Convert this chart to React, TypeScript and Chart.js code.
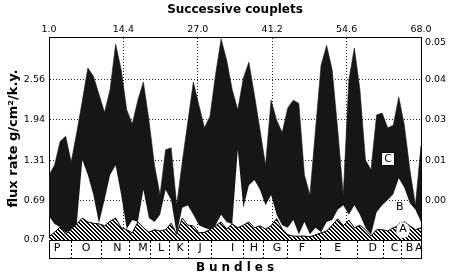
import React, { useEffect, useRef } from 'react';
import { Chart, registerables } from 'chart.js';

Chart.register(...registerables);

// ---- data ----
const couplets = [
  1, 2, 3, 4, 5, 6, 7, 8, 9, 10, 11, 12, 13, 14, 15, 16, 17, 18, 19, 20,
  21, 22, 23, 24, 25, 26, 27, 28, 29, 30, 31, 32, 33, 34, 35, 36, 37, 38, 39, 40,
  41, 42, 43, 44, 45, 46, 47, 48, 49, 50, 51, 52, 53, 54, 55, 56, 57, 58, 59, 60,
  61, 62, 63, 64, 65, 66, 67, 68,
];

// top of component C (black band) = total flux
const topC = [
  1.08, 1.23, 1.6, 1.68, 1.28, 1.74, 2.23, 2.74, 2.61, 2.33,
  2.05, 2.4, 3.11, 2.71, 2.09, 1.87, 2.24, 2.52, 1.93, 1.23,
  0.77, 1.47, 1.5, 0.61, 1.28, 1.9, 2.52, 2.16, 1.81, 1.99,
  2.64, 3.19, 2.86, 2.4, 2.09, 2.58, 2.83, 2.32, 1.78, 1.23,
  2.24, 1.93, 1.74, 2.12, 2.24, 2.19, 1.08, 0.77, 1.78, 2.78,
  3.09, 2.71, 1.78, 0.77, 2.55, 3.05, 2.4, 1.31, 1.16, 2.01,
  2.04, 1.81, 1.85, 2.29, 1.85, 1.16, 0.61, 1.54,
];

// top of component B (white band)
const topB = [
  0.44, 0.32, 0.27, 0.18, 0.24, 0.32, 1.31, 1.08, 0.77, 0.33,
  0.69, 1.08, 1.23, 0.77, 0.24, 0.38, 0.35, 0.85, 0.41, 0.35,
  0.46, 0.85, 0.69, 0.16, 0.57, 0.61, 0.46, 0.3, 0.26, 0.23,
  0.3, 0.46, 0.35, 0.32, 1.47, 0.57, 0.92, 1.0, 0.85, 0.61,
  0.77, 0.46, 0.3, 0.26, 0.38, 0.16, 0.35, 0.16, 0.26, 0.19,
  0.35, 0.38, 0.54, 0.61, 0.46, 0.61, 0.46, 0.26, 0.15, 0.5,
  0.61, 0.69, 0.78, 1.03, 0.88, 0.64, 0.54, 0.35,
];

// top of component A (hatched band)
const topA = [
  0.12, 0.19, 0.27, 0.16, 0.24, 0.32, 0.41, 0.35, 0.33, 0.32,
  0.29, 0.36, 0.41, 0.26, 0.23, 0.18, 0.35, 0.26, 0.19, 0.23,
  0.21, 0.23, 0.33, 0.16, 0.41, 0.3, 0.29, 0.18, 0.19, 0.23,
  0.29, 0.35, 0.24, 0.32, 0.26, 0.3, 0.35, 0.26, 0.29, 0.24,
  0.29, 0.4, 0.24, 0.15, 0.13, 0.13, 0.13, 0.12, 0.15, 0.18,
  0.21, 0.3, 0.4, 0.29, 0.38, 0.26, 0.3, 0.23, 0.13, 0.23,
  0.23, 0.21, 0.26, 0.29, 0.35, 0.29, 0.23, 0.26,
];

const topTickValues = [1, 14.4, 27.8, 41.2, 54.6, 68];
const topTickLabels = ['1.0', '14.4', '27.0', '41.2', '54.6', '68.0'];
const leftTickValues = [0.07, 0.69, 1.31, 1.94, 2.56];
const leftTickLabels = ['0.07', '0.69', '1.31', '1.94', '2.56'];
const rightTickValues = [0.69, 1.31, 1.94, 2.56, 3.14];
const rightTickLabels = ['0.00', '0.01', '0.03', '0.04', '0.05'];

const bundleBounds = [1, 5.05, 10.42, 15.55, 19.35, 22.79, 26.11, 30.21, 36.07, 39.69, 43.92, 49.96, 56.6, 61.3, 64.44, 68];
const bundleNames = ['P', 'O', 'N', 'M', 'L', 'K', 'J', 'I', 'H', 'G', 'F', 'E', 'D', 'C', 'B', 'A'];
const bundleLabelAt = [2.44, 7.66, 13.32, 17.93, 21.17, 24.6, 28.2, 34.09, 37.92, 42.07, 46.57, 52.98, 59.3, 63.23, 65.95, 67.6];

const seriesTagText = ['C', 'B', 'A'];
const seriesTagX = [62.06, 64.17, 64.76];
const seriesTagY = [1.33, 0.59, 0.24];

const Y_MIN = 0.07;
const Y_MAX = 3.22;
const FONT = "'DejaVu Sans', sans-serif";

const stripValues = [...bundleBounds, ...bundleLabelAt];
const stripLabels = [...bundleBounds.map(() => ''), ...bundleNames];
const nBounds = bundleBounds.length;

const tagPlugin = {
  id: 'seriesTags',
  afterDatasetsDraw(chart: any) {
    const { ctx, chartArea } = chart;
    const xs = chart.scales.x;
    const ys = chart.scales.y;
    ctx.save();
    ctx.beginPath();
    ctx.rect(chartArea.left, chartArea.top, chartArea.right - chartArea.left, chartArea.bottom - chartArea.top);
    ctx.clip();
    ctx.font = `11px ${FONT}`;
    ctx.textAlign = 'center';
    ctx.textBaseline = 'middle';
    seriesTagText.forEach((t, i) => {
      const px = xs.getPixelForValue(seriesTagX[i]);
      const py = ys.getPixelForValue(seriesTagY[i]);
      if (t === 'C') {
        ctx.fillStyle = '#fff';
        ctx.fillRect(Math.round(px) - 6.5, Math.round(py) - 6.5, 13, 13);
        ctx.strokeStyle = '#000';
        ctx.lineWidth = 1;
        ctx.strokeRect(Math.round(px) - 6.5, Math.round(py) - 6.5, 13, 13);
      }
      if (t === 'A') {
        ctx.fillStyle = '#fff';
        ctx.beginPath();
        ctx.ellipse(px, py + 1, 7, 8, 0, 0, Math.PI * 2);
        ctx.fill();
        ctx.strokeStyle = '#000';
        ctx.lineWidth = 1;
        ctx.setLineDash([1, 1.5]);
        ctx.beginPath();
        ctx.ellipse(px, py + 1, 7, 8, 0, Math.PI, Math.PI * 2);
        ctx.stroke();
        ctx.setLineDash([]);
      }
      ctx.fillStyle = '#000';
      ctx.fillText(t, px, py + 0.5);
    });
    ctx.restore();
  },
};

const spacedTitlePlugin = {
  id: 'spacedTitle',
  beforeDraw(chart: any) {
    const s: any = chart.scales.xb;
    if (s && !s.__spaced) {
      const orig = s.drawTitle;
      s.drawTitle = function (...args: any[]) {
        const c = this.ctx;
        c.save();
        c.letterSpacing = '4px';
        c.translate(2, 0);
        orig.apply(this, args);
        c.restore();
      };
      s.__spaced = true;
    }
  },
};

function makeHatch(): CanvasPattern | string {
  const pc = document.createElement('canvas');
  pc.width = 4;
  pc.height = 4;
  const g = pc.getContext('2d');
  if (!g) return '#888';
  g.fillStyle = '#fff';
  g.fillRect(0, 0, 4, 4);
  g.fillStyle = '#000';
  for (let k = 0; k < 4; k++) {
    g.fillRect(k, k, 1, 1);
    g.fillRect((k + 1) % 4, k, 1, 1);
  }
  return g.createPattern(pc, 'repeat') || '#888';
}

export default function App() {
  const ref = useRef<HTMLCanvasElement | null>(null);

  useEffect(() => {
    if (!ref.current) return;
    document.body.style.margin = '0';
    document.body.style.overflow = 'hidden';
    const hatch = makeHatch();
    const pts = (arr: number[]) => couplets.map((c, i) => ({ x: c, y: arr[i] }));
    const tickFont = { family: FONT, size: 9.5 };

    const chart = new Chart(ref.current, {
      type: 'line',
      data: {
        datasets: [
          {
            label: 'A',
            data: pts(topA),
            fill: 'start',
            backgroundColor: hatch as any,
            borderColor: '#000',
            borderWidth: 1,
            pointRadius: 0,
            tension: 0,
            xAxisID: 'x',
            yAxisID: 'y',
          },
          {
            label: 'B',
            data: pts(topB),
            fill: false,
            borderColor: 'rgba(0,0,0,0)',
            borderWidth: 1,
            pointRadius: 0,
            tension: 0,
            xAxisID: 'x',
            yAxisID: 'y',
          },
          {
            label: 'C',
            data: pts(topC),
            fill: '-1',
            backgroundColor: '#161616',
            borderColor: '#161616',
            borderWidth: 0.6,
            pointRadius: 0,
            tension: 0,
            xAxisID: 'x',
            yAxisID: 'y',
          },
        ],
      },
      options: {
        animation: false,
        responsive: false,
        layout: { padding: 0 },
        plugins: { legend: { display: false }, tooltip: { enabled: false } },
        scales: {
          x: {
            type: 'linear',
            position: 'top',
            min: 1,
            max: 68,
            afterBuildTicks: (s: any) => {
              s.ticks = topTickValues.map((v) => ({ value: v }));
            },
            afterFit: (s: any) => {
              s.height = 37;
            },
            ticks: {
              callback: (_v: any, i: number) => topTickLabels[i],
              font: tickFont,
              color: '#000',
              padding: 2,
              autoSkip: false,
              maxRotation: 0,
            },
            grid: {
              drawTicks: false,
              lineWidth: 1,
              color: (c: any) => (c.index === 0 || c.index === topTickValues.length - 1 ? 'rgba(0,0,0,0)' : '#222'),
            },
            border: { display: true, color: '#000', width: 1, dash: [1, 2] },
            title: {
              display: true,
              text: 'Successive couplets',
              font: { family: FONT, size: 12, weight: 'bold' },
              color: '#000',
              padding: { top: 3, bottom: 0 },
            },
          },
          xs: {
            type: 'linear',
            position: 'bottom',
            weight: 0,
            min: 1,
            max: 68,
            afterBuildTicks: (s: any) => {
              s.ticks = stripValues.map((v) => ({ value: v }));
            },
            afterFit: (s: any) => {
              s.height = 18;
            },
            ticks: {
              callback: (_v: any, i: number) => stripLabels[i],
              font: { family: FONT, size: 11 },
              color: '#000',
              padding: -16,
              autoSkip: false,
              maxRotation: 0,
              minRotation: 0,
            },
            grid: {
              drawOnChartArea: false,
              drawTicks: true,
              tickLength: 18,
              tickWidth: 1,
              tickColor: (c: any) => (c.index < nBounds ? '#000' : 'rgba(0,0,0,0)'),
              tickBorderDash: (c: any) => (c.index === 0 || c.index === nBounds - 1 ? [] : [2, 2]),
            },
            border: { display: true, color: '#000', width: 1 },
          },
          xb: {
            type: 'linear',
            position: 'bottom',
            weight: 1,
            min: 1,
            max: 68,
            afterFit: (s: any) => {
              s.height = 17;
            },
            ticks: { display: false },
            grid: { display: false, drawTicks: false },
            border: { display: true, color: '#000', width: 1 },
            title: {
              display: true,
              text: 'Bundles',
              font: { family: FONT, size: 12, weight: 'bold' },
              color: '#000',
              padding: { top: 0, bottom: 0 },
            },
          },
          y: {
            type: 'linear',
            position: 'left',
            min: Y_MIN,
            max: Y_MAX,
            afterBuildTicks: (s: any) => {
              s.ticks = leftTickValues.map((v) => ({ value: v }));
            },
            afterFit: (s: any) => {
              s.width = 49;
            },
            ticks: {
              callback: (_v: any, i: number) => leftTickLabels[i],
              font: tickFont,
              color: '#000',
              padding: 4,
              autoSkip: false,
            },
            grid: {
              drawTicks: false,
              lineWidth: 1,
              color: (c: any) => (c.index === 0 ? 'rgba(0,0,0,0)' : '#222'),
            },
            border: { display: true, color: '#000', width: 1, dash: [1, 2] },
            title: {
              display: true,
              text: 'flux rate g/cm²/k.y.',
              font: { family: FONT, size: 13, weight: 'bold' },
              color: '#000',
              padding: { top: 6, bottom: 0 },
            },
          },
          y2: {
            type: 'linear',
            position: 'right',
            min: Y_MIN,
            max: Y_MAX,
            afterBuildTicks: (s: any) => {
              s.ticks = rightTickValues.map((v) => ({ value: v }));
            },
            afterFit: (s: any) => {
              s.width = 29;
            },
            ticks: {
              callback: (_v: any, i: number) => rightTickLabels[i],
              font: tickFont,
              color: '#000',
              padding: 4,
              autoSkip: false,
            },
            grid: { display: false, drawOnChartArea: false, drawTicks: false },
            border: { display: true, color: '#000', width: 1 },
          },
        },
      } as any,
      plugins: [tagPlugin, spacedTitlePlugin],
    });

    return () => {
      chart.destroy();
    };
  }, []);

  return (
    <div style={{ position: 'fixed', left: 0, top: 0, width: 450, height: 275, background: '#fff' }}>
      <canvas ref={ref} width={450} height={275} style={{ display: 'block', width: 450, height: 275 }} />
    </div>
  );
}
